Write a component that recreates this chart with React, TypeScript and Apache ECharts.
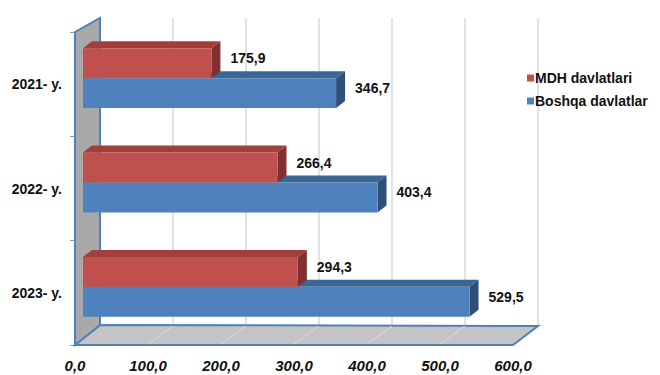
import React, { useEffect, useRef } from 'react';
import * as echarts from 'echarts';

const categories = ['2021- y.', '2022- y.', '2023- y.'];
const mdhValues = [175.9, 266.4, 294.3];
const boshqaValues = [346.7, 403.4, 529.5];
const seriesNames = ['MDH davlatlari', 'Boshqa davlatlar'];
const axisMin = 0;
const axisMax = 600;
const axisStep = 100;

const FONT = "'Liberation Sans', Arial, sans-serif";
const fmt = (v: number) => v.toFixed(1).replace('.', ',');

export default function App() {
  const ref = useRef<HTMLDivElement>(null);
  useEffect(() => {
    const chart = echarts.init(ref.current!, null, { renderer: 'svg' });

    const WDX = 25, WDY_BOTTOM = -20, WDY_TOP = -14; // wall depth
    const BDX = 8, BDY = -6; // bar plane offset
    const TDX = 9, TDY = -7; // bar depth

    const frameRender = (params: any, api: any) => {
      const bw = api.size([0, 1])[1];
      const pTop = api.coord([axisMin, 0]);
      const pBot = api.coord([axisMin, categories.length - 1]);
      const x0 = pTop[0];
      const top = pTop[1] - bw / 2;
      const bottom = pBot[1] + bw / 2;
      const xMax = api.coord([axisMax, 0])[0];
      const children: any[] = [];
      for (let v = axisMin + axisStep; v <= axisMax; v += axisStep) {
        const x = api.coord([v, 0])[0];
        children.push({
          type: 'line',
          shape: { x1: x + WDX, y1: bottom + WDY_BOTTOM + 1, x2: x + WDX, y2: top + WDY_TOP },
          style: { stroke: '#d9d9d9', lineWidth: 1.5 },
        });
      }
      children.push({
        type: 'polygon',
        shape: { points: [[x0, bottom], [xMax, bottom], [xMax + WDX, bottom + WDY_BOTTOM + 1], [x0 + WDX, bottom + WDY_BOTTOM]] },
        style: { fill: '#c4c4c4', stroke: '#4f81bd', lineWidth: 2 },
      });
      for (let v = axisMin + axisStep; v < axisMax; v += axisStep) {
        const x = api.coord([v, 0])[0];
        children.push({
          type: 'line',
          shape: { x1: x, y1: bottom - 1, x2: x + WDX, y2: bottom + WDY_BOTTOM + 1 },
          style: { stroke: '#dedede', lineWidth: 1 },
        });
      }
      children.push({
        type: 'polygon',
        shape: { points: [[x0, top], [x0 + WDX, top + WDY_TOP], [x0 + WDX, bottom + WDY_BOTTOM], [x0, bottom]] },
        style: { fill: '#a9a9a9', stroke: '#4f81bd', lineWidth: 2 },
      });
      return { type: 'group', children };
    };

    const barRender = (upper: boolean, front: string, topC: string, side: string) => (params: any, api: any) => {
      const idx = api.value(0);
      const val = api.value(1);
      const p0 = api.coord([axisMin, idx]);
      const p1 = api.coord([val, idx]);
      const bw = api.size([0, 1])[1];
      const h = bw * 0.287;
      const cc = p0[1] + BDY;
      const x0 = p0[0] + BDX;
      const x1 = p1[0] + BDX;
      const y0 = upper ? cc - h : cc;
      const y1 = y0 + h;
      return {
        type: 'group',
        children: [
          {
            type: 'polygon',
            shape: { points: [[x0, y0], [x1, y0], [x1 + TDX, y0 + TDY], [x0 + TDX, y0 + TDY]] },
            style: { fill: topC },
          },
          {
            type: 'polygon',
            shape: { points: [[x1, y0], [x1 + TDX, y0 + TDY], [x1 + TDX, y1 + TDY], [x1, y1]] },
            style: { fill: side },
          },
          {
            type: 'rect',
            shape: { x: x0, y: y0, width: x1 - x0, height: h },
            style: { fill: front },
          },
          {
            type: 'text',
            style: {
              text: fmt(val),
              x: x1 + 19,
              y: (y0 + y1) / 2 - 5,
              align: 'left',
              verticalAlign: 'middle',
              textAlign: 'left',
              textVerticalAlign: 'middle',
              fill: '#111',
              fontSize: 14,
              fontWeight: 'bold',
              fontFamily: FONT,
            },
          },
        ],
      };
    };

    chart.setOption({
      animation: false,
      backgroundColor: '#ffffff',
      textStyle: { fontFamily: FONT },
      grid: { left: 75, top: 32, width: 438, height: 313, containLabel: false },
      legend: {
        data: seriesNames,
        orient: 'vertical',
        left: 522,
        top: 66,
        icon: 'rect',
        itemWidth: 7,
        itemHeight: 7,
        itemGap: 9,
        textStyle: { fontSize: 14, fontWeight: 'bold', color: '#111', fontFamily: FONT, padding: [0, 0, 0, -4] },
      },
      xAxis: {
        type: 'value',
        min: axisMin,
        max: axisMax,
        interval: axisStep,
        axisLine: { show: false },
        axisTick: { show: false },
        splitLine: { show: false },
        axisLabel: {
          formatter: (v: number) => fmt(v),
          fontSize: 15,
          fontWeight: 'bold',
          fontStyle: 'italic',
          color: '#111',
          margin: 13,
          fontFamily: FONT,
        },
      },
      yAxis: {
        type: 'category',
        data: categories,
        inverse: true,
        axisLine: { show: false },
        axisTick: { show: true, length: 5, lineStyle: { color: '#8ea3bf' } },
        splitLine: { show: false },
        axisLabel: { fontSize: 14, fontWeight: 'bold', color: '#111', margin: 13, fontFamily: FONT },
      },
      series: [
        {
          type: 'custom',
          name: 'frame',
          data: [[0, 0]],
          encode: { x: 1, y: 0 },
          renderItem: frameRender,
          clip: false,
          silent: true,
          z: 1,
        },
        {
          type: 'custom',
          name: seriesNames[1],
          data: boshqaValues.map((v, i) => [i, v]),
          encode: { x: 1, y: 0 },
          itemStyle: { color: '#4f81bd' },
          renderItem: barRender(false, '#4f81bd', '#3c6696', '#2d4f78'),
          clip: false,
          z: 2,
        },
        {
          type: 'custom',
          name: seriesNames[0],
          data: mdhValues.map((v, i) => [i, v]),
          encode: { x: 1, y: 0 },
          itemStyle: { color: '#c0504d' },
          renderItem: barRender(true, '#c0504d', '#a13f3c', '#82302e'),
          clip: false,
          z: 3,
        },
      ],
    });
    return () => chart.dispose();
  }, []);
  return <div ref={ref} style={{ position: 'fixed', left: 0, top: 0, width: 660, height: 375 }} />;
}
